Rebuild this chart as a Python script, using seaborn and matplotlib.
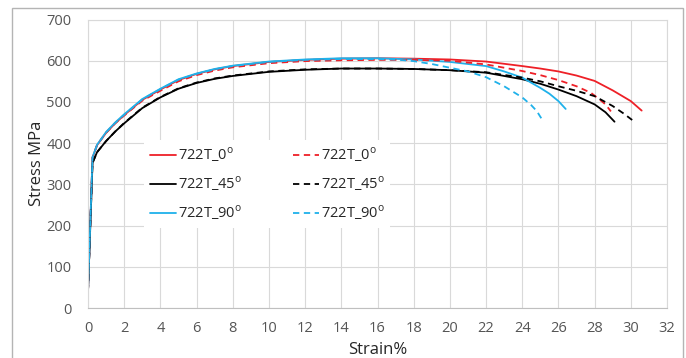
import numpy as np
import pandas as pd
import matplotlib
matplotlib.use("Agg")
import matplotlib.pyplot as plt
import seaborn as sns
from matplotlib.patches import Rectangle

strain_0 = [0, 0.25, 0.5, 1, 1.5, 2, 3, 4, 5, 6, 7, 8, 10, 12, 14, 16, 18, 20, 22, 24, 25, 26, 27, 28, 29, 30, 30.6]
stress_0 = [40, 365, 395, 425, 448, 468, 505, 530, 553, 568, 579, 587, 597, 602, 605, 606, 605, 603, 598, 587, 581, 574, 564, 551, 528, 502, 479]

strain_0d = [0, 0.25, 0.5, 1, 1.5, 2, 3, 4, 5, 6, 7, 8, 10, 12, 14, 16, 18, 20, 22, 24, 25, 26, 27, 27.8, 28.3, 28.6, 28.9]
stress_0d = [40, 365, 395, 425, 448, 467, 503, 527, 550, 565, 576, 584, 594, 599, 601, 602, 602, 600, 591, 575, 565, 553, 538, 522, 505, 494, 477]

strain_45 = [0, 0.25, 0.5, 1, 1.5, 2, 3, 4, 5, 6, 7, 8, 10, 12, 14, 16, 18, 20, 22, 24, 25, 26, 27, 28, 28.6, 29.1]
stress_45 = [40, 352, 378, 405, 428, 448, 485, 511, 532, 546, 556, 563, 573, 578, 581, 581, 580, 577, 571, 555, 544, 530, 514, 494, 475, 452]

strain_45d = [0, 0.25, 0.5, 1, 1.5, 2, 3, 4, 5, 6, 7, 8, 10, 12, 14, 16, 18, 20, 22, 24, 25, 26, 27, 28, 29, 29.6, 30.2]
stress_45d = [40, 352, 378, 405, 428, 449, 486, 512, 533, 547, 557, 564, 574, 579, 581, 581, 580, 577, 572, 559, 550, 538, 527, 514, 490, 472, 452]

strain_90 = [0, 0.25, 0.5, 1, 1.5, 2, 3, 4, 5, 6, 7, 8, 10, 12, 14, 16, 18, 20, 22, 23, 24, 25, 25.5, 26, 26.4]
stress_90 = [40, 366, 396, 427, 450, 470, 507, 532, 555, 569, 580, 588, 598, 603, 606, 606, 603, 597, 587, 574, 559, 534, 520, 502, 483]

strain_90d = [0, 0.25, 0.5, 1, 1.5, 2, 3, 4, 5, 6, 7, 8, 10, 12, 14, 16, 17, 18, 19, 20, 21, 22, 23, 24, 24.5, 24.8, 25.1]
stress_90d = [40, 365, 395, 426, 449, 469, 506, 531, 554, 568, 579, 587, 597, 602, 604, 604, 603, 599, 592, 583, 574, 560, 538, 511, 492, 478, 457]

labels = ["722T_0$^\\mathrm{o}$", "722T_45$^\\mathrm{o}$", "722T_90$^\\mathrm{o}$"]
x_ticks = list(range(0, 33, 2))
y_ticks = list(range(0, 701, 100))

sns.set_style("white")
plt.rcParams["font.family"] = ["Open Sans", "DejaVu Sans"]
plt.rcParams["mathtext.fontset"] = "custom"
plt.rcParams["mathtext.rm"] = "Open Sans"

red = "#ee2027"
black = "#000000"
blue = "#1fb1ea"

fig = plt.figure(figsize=(6.86, 3.58), dpi=100)
ax = fig.add_axes([88 / 686, 1 - 308 / 358, (667 - 88) / 686, (308 - 19.5) / 358])

# outer chart border (cut off at the bottom in the reference)
fig.patches.append(Rectangle((12 / 686, -0.1), (683 - 12) / 686, 1.1 - 8 / 358,
                             transform=fig.transFigure, fill=False,
                             edgecolor="#b4b4b4", lw=1.0))

series = [
    (strain_0, stress_0, red, labels[0], False),
    (strain_45, stress_45, black, labels[1], False),
    (strain_90, stress_90, blue, labels[2], False),
    (strain_0d, stress_0d, red, labels[0], True),
    (strain_45d, stress_45d, black, labels[1], True),
    (strain_90d, stress_90d, blue, labels[2], True),
]

for xs, ys, col, lab, dashed in series:
    sns.lineplot(x=xs, y=ys, color=col, label=lab, ax=ax, lw=1.3,
                 estimator=None, sort=False)
    if dashed:
        ax.lines[-1].set_dashes((3.5, 2.5))

ax.set_xlim(0, 32)
ax.set_ylim(0, 700)
ax.set_xticks(x_ticks)
ax.set_yticks(y_ticks)
ax.grid(True, color="#d9d9d9", lw=0.8)
ax.set_axisbelow(True)
for s in ax.spines.values():
    s.set_color("#d9d9d9")
    s.set_linewidth(0.8)
ax.spines["bottom"].set_color("#bfbfbf")
ax.tick_params(length=0, labelsize=10.5, labelcolor="#555555")
ax.tick_params(axis="y", pad=12)
ax.tick_params(axis="x", pad=9)

ax.set_xlabel("Strain%", fontsize=12, color="#262626", labelpad=5)
ax.set_ylabel("Stress MPa", fontsize=12, color="#262626", labelpad=1)

leg = ax.legend(ncol=2, loc="center left", bbox_to_anchor=(0.097, 0.43),
                borderaxespad=0, frameon=True, facecolor="white",
                edgecolor="none", framealpha=1, fancybox=False,
                fontsize=10.5, handlelength=1.8, handletextpad=0.1,
                columnspacing=3.5, labelspacing=0.7, borderpad=0.4)

fig.savefig("out.png", dpi=100)
